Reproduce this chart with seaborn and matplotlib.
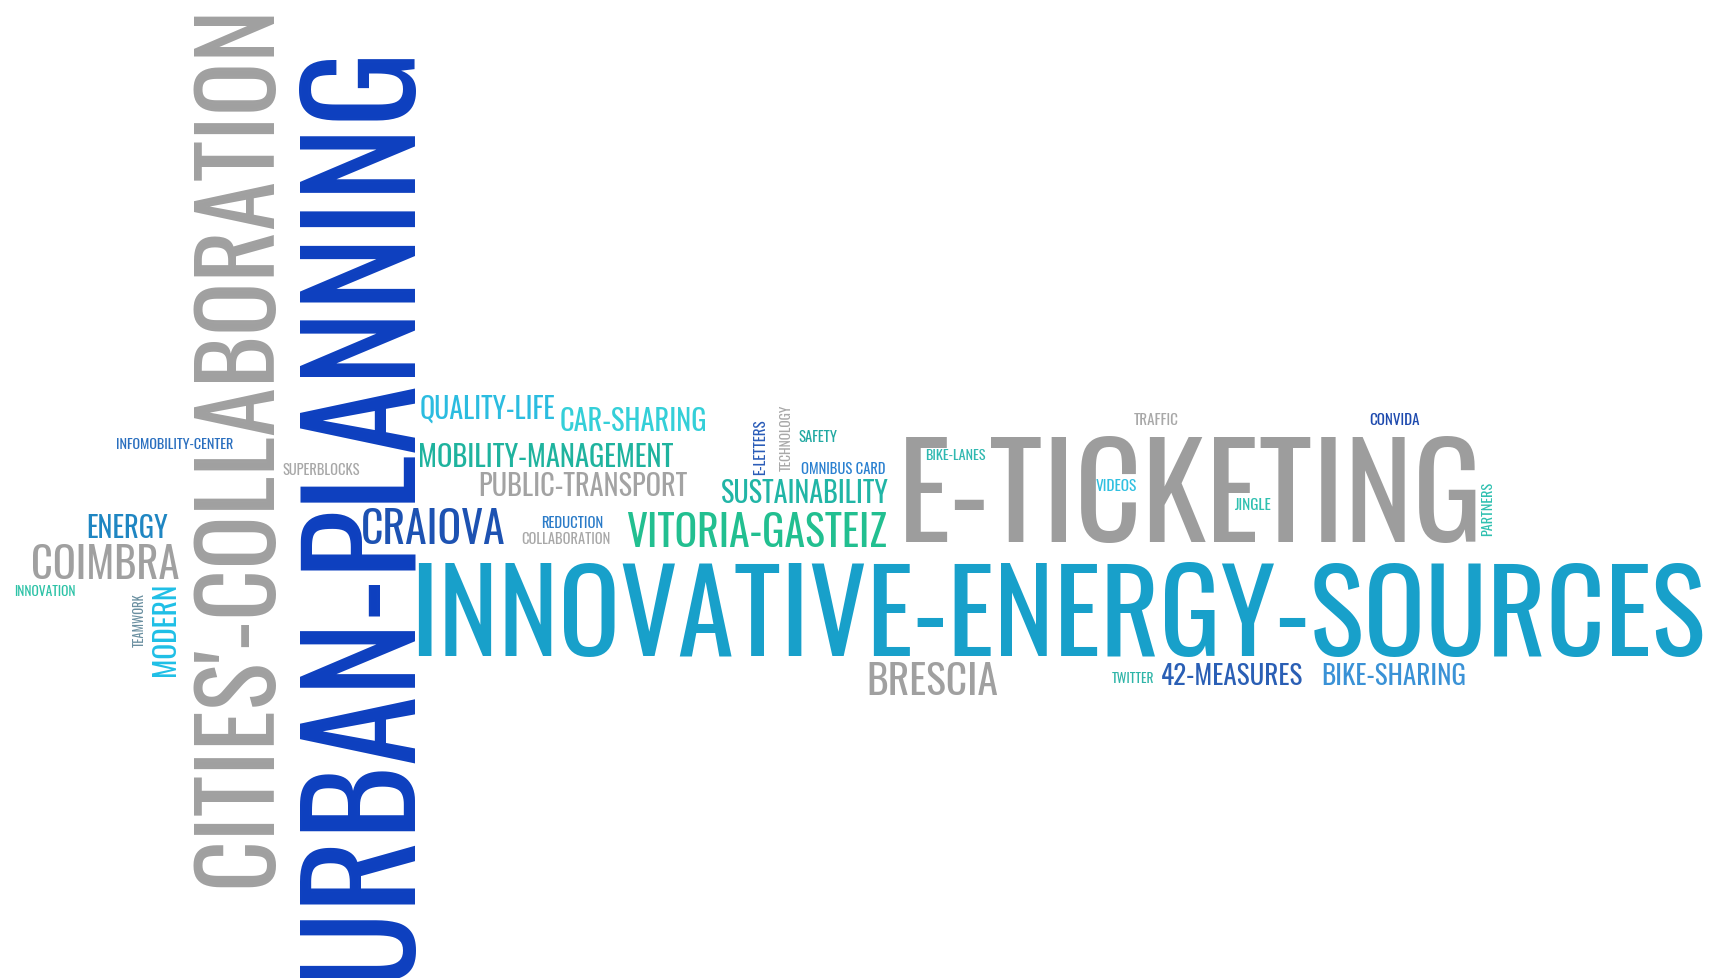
import numpy as np
import pandas as pd
import matplotlib
matplotlib.use("Agg")
import matplotlib.pyplot as plt
import seaborn as sns
from matplotlib import font_manager
from matplotlib.colors import to_rgb
from matplotlib.font_manager import FontProperties
from matplotlib.textpath import TextPath

words = ["URBAN-PLANNING", "CITIES'-COLLABORATION", "INNOVATIVE-ENERGY-SOURCES", "E-TICKETING",
         "COIMBRA", "ENERGY", "CRAIOVA", "QUALITY-LIFE", "CAR-SHARING", "MOBILITY-MANAGEMENT",
         "PUBLIC-TRANSPORT", "SUSTAINABILITY", "VITORIA-GASTEIZ", "BRESCIA", "42-MEASURES",
         "BIKE-SHARING", "TWITTER", "REDUCTION", "COLLABORATION", "SUPERBLOCKS",
         "INFOMOBILITY-CENTER", "INNOVATION", "TEAMWORK", "MODERN", "E-LETTERS", "TECHNOLOGY",
         "SAFETY", "OMNIBUS CARD", "TRAFFIC", "BIKE-LANES", "VIDEOS", "JINGLE", "CONVIDA", "PARTNERS"]
weights = [121, 80, 95, 102,
           34, 23, 34, 23, 22, 23,
           23, 24, 37, 32, 20,
           20, 10, 11, 11, 12,
           10.5, 10, 10.5, 22, 11, 10,
           12, 12, 11.5, 13, 12.5, 12.5, 12, 10.5]

# layout: box of each word (x0, x1, y0, y1) in a 1568x893 frame, and rotation
boxes = [(258, 379, 45, 888), (172, 252, 10, 805), (381, 1553, 503, 598), (826, 1346, 393, 494),
         (30, 163, 494, 528), (80, 153, 468, 491), (331, 460, 462, 496), (384, 506, 359, 382),
         (512, 644, 371, 393), (383, 614, 403, 426), (438, 627, 429, 452), (659, 811, 435, 459),
         (572, 808, 462, 499), (793, 910, 602, 634), (1057, 1190, 604, 625), (1203, 1339, 604, 625),
         (1012, 1054, 612, 623), (494, 549, 471, 482), (476, 556, 485, 496), (258, 328, 421, 433),
         (106, 214, 400, 410), (10, 72, 533, 544), (120, 131, 541, 590), (137, 160, 533, 615),
         (687, 698, 383, 433), (710, 721, 368, 430), (729, 764, 391, 403), (731, 807, 420, 432),
         (1034, 1074, 377, 388), (845, 899, 407, 420), (1000, 1037, 435, 448), (1127, 1160, 452, 465),
         (1250, 1295, 376, 388), (1350, 1361, 437, 490)]
rots = [90, 90, 0, 0, 0, 0, 0, 0, 0, 0, 0, 0, 0, 0, 0, 0, 0, 0, 0, 0,
        0, 0, 90, 90, 90, 90, 0, 0, 0, 0, 0, 0, 0, 90]
colors = ["#0d3fbf", "#a0a0a0", "#18a0ca", "#9d9d9d",
          "#a0a0a0", "#1f86c2", "#1d52b2", "#2bbce0", "#34cfd8", "#1fb39e",
          "#a3a3a3", "#21b5a6", "#22bf90", "#a0a0a0", "#2a5fb5",
          "#3a92d6", "#2fb5a8", "#2a7bc8", "#a8a8a8", "#a8a8a8",
          "#2a6fbf", "#2cc2a6", "#6a8fa0", "#1fbfe6", "#2a5cb8", "#a8a8a8",
          "#22a9a2", "#2a80d0", "#a8a8a8", "#2fb8b0", "#30c0e0", "#30c0b0", "#1e4aae", "#2fc0b0"]

sns.set_theme(style="white")
names = {f.name for f in font_manager.fontManager.ttflist}
prefs = ["Oswald", "Fjalla One", "Saira ExtraCondensed", "Roboto Condensed", "DejaVu Sans"]
font = next(p for p in prefs if p in names)
plt.rcParams["font.family"] = [font, "DejaVu Sans"]
fp = FontProperties(family=font)

W, H = 1568, 893
sx = 1719 / W
fig = plt.figure(figsize=(17.19, 9.79), dpi=100)
ax = fig.add_axes([0, 0, 1, 1])
ax.set_xlim(0, W)
ax.set_ylim(H, 0)
ax.axis("off")

df = pd.DataFrame({"word": words, "weight": weights, "rot": rots, "color": colors})
df[["x0", "x1", "y0", "y1"]] = boxes

# ink size of the font, per unit of font size
cap = TextPath((0, 0), "H", size=1, prop=fp).get_extents().height

big_vertical = []
for _, r in df.iterrows():
    ext = TextPath((0, 0), r.word, size=1, prop=fp).get_extents()
    length = (r.x1 - r.x0 if r.rot == 0 else r.y1 - r.y0) * sx
    px = min(length / ext.width, r.weight * sx / cap)
    fs = px * 72 / 100
    mid = (ext.x0 + ext.width / 2) * px / sx
    if r.rot == 0:
        ax.text((r.x0 + r.x1) / 2 - mid, r.y1, r.word, fontsize=fs, color=r.color,
                ha="left", va="baseline")
    else:
        t = ax.text(r.x1, (r.y0 + r.y1) / 2 + mid, r.word, fontsize=fs, color=r.color,
                    ha="left", va="baseline", rotation=90, rotation_mode="anchor")
        if r.weight > 50:
            big_vertical.append((t, r))

# line the big vertical words up with the right edge of their box, from the drawn ink
fig.canvas.draw()
img = np.asarray(fig.canvas.buffer_rgba())[:, :, :3].astype(int)
for t, r in big_vertical:
    c = np.array(to_rgb(r.color)) * 255
    X0, X1 = int((r.x0 - 30) * sx), int((r.x1 + 30) * sx)
    Y0, Y1 = int(r.y0 * sx), int((r.y0 + 0.35 * (r.y1 - r.y0)) * sx)
    mask = np.abs(img[Y0:Y1, X0:X1] - c).sum(axis=2) < 60
    cols = np.where(mask.any(axis=0))[0]
    if len(cols):
        right = (X0 + cols.max() + 1) / sx
        x, y = t.get_position()
        t.set_position((x + r.x1 - right, y))

fig.savefig("out.png", dpi=100)
